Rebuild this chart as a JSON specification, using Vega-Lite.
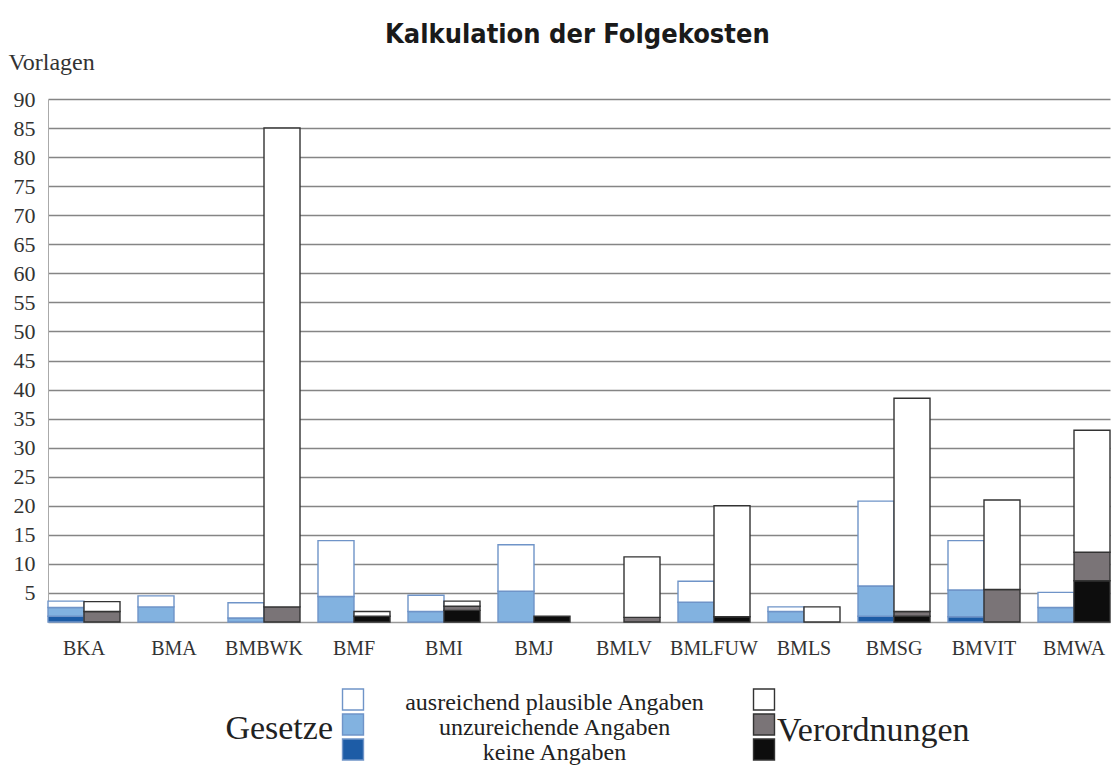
{
  "$schema": "https://vega.github.io/schema/vega-lite/v6.json",
  "background": "white",
  "padding": {"left": 8, "top": 21, "right": 0, "bottom": 0},
  "title": {"text": "Kalkulation der Folgekosten", "font": "DejaVu Sans Condensed, DejaVu Sans", "fontWeight": "bold", "fontSize": 27, "color": "#1a1a1a", "anchor": "middle", "offset": 1, "dx": 18},
  "config": {"view": {"stroke": null}, "font": "Liberation Serif"},
  "spacing": 28,
  "vconcat": [
    {
      "width": 1062,
      "height": 523,
      "data": {"values": [
        {"Ressort": "BKA", "Art": "Gesetze", "Angabe": "keine Angaben", "n": 1.0},
        {"Ressort": "BKA", "Art": "Gesetze", "Angabe": "unzureichende Angaben", "n": 1.5},
        {"Ressort": "BKA", "Art": "Gesetze", "Angabe": "ausreichend plausible Angaben", "n": 1.1},
        {"Ressort": "BKA", "Art": "Verordnungen", "Angabe": "unzureichende Angaben", "n": 1.8},
        {"Ressort": "BKA", "Art": "Verordnungen", "Angabe": "ausreichend plausible Angaben", "n": 1.7},
        {"Ressort": "BMA", "Art": "Gesetze", "Angabe": "unzureichende Angaben", "n": 2.6},
        {"Ressort": "BMA", "Art": "Gesetze", "Angabe": "ausreichend plausible Angaben", "n": 1.9},
        {"Ressort": "BMBWK", "Art": "Gesetze", "Angabe": "unzureichende Angaben", "n": 0.7},
        {"Ressort": "BMBWK", "Art": "Gesetze", "Angabe": "ausreichend plausible Angaben", "n": 2.6},
        {"Ressort": "BMBWK", "Art": "Verordnungen", "Angabe": "unzureichende Angaben", "n": 2.6},
        {"Ressort": "BMBWK", "Art": "Verordnungen", "Angabe": "ausreichend plausible Angaben", "n": 82.4},
        {"Ressort": "BMF", "Art": "Gesetze", "Angabe": "unzureichende Angaben", "n": 4.4},
        {"Ressort": "BMF", "Art": "Gesetze", "Angabe": "ausreichend plausible Angaben", "n": 9.6},
        {"Ressort": "BMF", "Art": "Verordnungen", "Angabe": "keine Angaben", "n": 1.0},
        {"Ressort": "BMF", "Art": "Verordnungen", "Angabe": "ausreichend plausible Angaben", "n": 0.8},
        {"Ressort": "BMI", "Art": "Gesetze", "Angabe": "unzureichende Angaben", "n": 1.8},
        {"Ressort": "BMI", "Art": "Gesetze", "Angabe": "ausreichend plausible Angaben", "n": 2.8},
        {"Ressort": "BMI", "Art": "Verordnungen", "Angabe": "keine Angaben", "n": 2.0},
        {"Ressort": "BMI", "Art": "Verordnungen", "Angabe": "unzureichende Angaben", "n": 0.7},
        {"Ressort": "BMI", "Art": "Verordnungen", "Angabe": "ausreichend plausible Angaben", "n": 0.9},
        {"Ressort": "BMJ", "Art": "Gesetze", "Angabe": "unzureichende Angaben", "n": 5.3},
        {"Ressort": "BMJ", "Art": "Gesetze", "Angabe": "ausreichend plausible Angaben", "n": 8.0},
        {"Ressort": "BMJ", "Art": "Verordnungen", "Angabe": "keine Angaben", "n": 1.0},
        {"Ressort": "BMLV", "Art": "Verordnungen", "Angabe": "unzureichende Angaben", "n": 0.8},
        {"Ressort": "BMLV", "Art": "Verordnungen", "Angabe": "ausreichend plausible Angaben", "n": 10.4},
        {"Ressort": "BMLFUW", "Art": "Gesetze", "Angabe": "unzureichende Angaben", "n": 3.4},
        {"Ressort": "BMLFUW", "Art": "Gesetze", "Angabe": "ausreichend plausible Angaben", "n": 3.6},
        {"Ressort": "BMLFUW", "Art": "Verordnungen", "Angabe": "keine Angaben", "n": 0.9},
        {"Ressort": "BMLFUW", "Art": "Verordnungen", "Angabe": "ausreichend plausible Angaben", "n": 19.1},
        {"Ressort": "BMLS", "Art": "Gesetze", "Angabe": "unzureichende Angaben", "n": 1.8},
        {"Ressort": "BMLS", "Art": "Gesetze", "Angabe": "ausreichend plausible Angaben", "n": 0.8},
        {"Ressort": "BMLS", "Art": "Verordnungen", "Angabe": "ausreichend plausible Angaben", "n": 2.6},
        {"Ressort": "BMSG", "Art": "Gesetze", "Angabe": "keine Angaben", "n": 1.0},
        {"Ressort": "BMSG", "Art": "Gesetze", "Angabe": "unzureichende Angaben", "n": 5.2},
        {"Ressort": "BMSG", "Art": "Gesetze", "Angabe": "ausreichend plausible Angaben", "n": 14.6},
        {"Ressort": "BMSG", "Art": "Verordnungen", "Angabe": "keine Angaben", "n": 1.0},
        {"Ressort": "BMSG", "Art": "Verordnungen", "Angabe": "unzureichende Angaben", "n": 0.8},
        {"Ressort": "BMSG", "Art": "Verordnungen", "Angabe": "ausreichend plausible Angaben", "n": 36.7},
        {"Ressort": "BMVIT", "Art": "Gesetze", "Angabe": "keine Angaben", "n": 0.9},
        {"Ressort": "BMVIT", "Art": "Gesetze", "Angabe": "unzureichende Angaben", "n": 4.6},
        {"Ressort": "BMVIT", "Art": "Gesetze", "Angabe": "ausreichend plausible Angaben", "n": 8.5},
        {"Ressort": "BMVIT", "Art": "Verordnungen", "Angabe": "unzureichende Angaben", "n": 5.6},
        {"Ressort": "BMVIT", "Art": "Verordnungen", "Angabe": "ausreichend plausible Angaben", "n": 15.4},
        {"Ressort": "BMWA", "Art": "Gesetze", "Angabe": "unzureichende Angaben", "n": 2.5},
        {"Ressort": "BMWA", "Art": "Gesetze", "Angabe": "ausreichend plausible Angaben", "n": 2.6},
        {"Ressort": "BMWA", "Art": "Verordnungen", "Angabe": "keine Angaben", "n": 7.1},
        {"Ressort": "BMWA", "Art": "Verordnungen", "Angabe": "unzureichende Angaben", "n": 4.9},
        {"Ressort": "BMWA", "Art": "Verordnungen", "Angabe": "ausreichend plausible Angaben", "n": 21.0}
      ]},
      "transform": [
        {"calculate": "indexof(['keine Angaben','unzureichende Angaben','ausreichend plausible Angaben'], datum.Angabe)", "as": "rang"},
        {"calculate": "datum.Art + ': ' + datum.Angabe", "as": "Kategorie"},
        {"stack": "n", "groupby": ["Ressort", "Art"], "sort": [{"field": "rang", "order": "ascending"}], "as": ["n0", "n1"]}
      ],
      "mark": {"type": "bar", "strokeWidth": 1.4},
      "encoding": {
        "x": {
          "field": "Ressort", "type": "nominal",
          "sort": ["BKA", "BMA", "BMBWK", "BMF", "BMI", "BMJ", "BMLV", "BMLFUW", "BMLS", "BMSG", "BMVIT", "BMWA"],
          "scale": {"paddingInner": 0.2, "paddingOuter": 0},
          "axis": {"title": null, "labelAngle": 0, "labelFont": "Liberation Serif", "labelFontSize": 20, "labelPadding": 16, "labelColor": "#333", "ticks": false, "tickSize": 0, "domainColor": "#999", "domainWidth": 1.5, "grid": false}
        },
        "xOffset": {"field": "Art", "type": "nominal", "sort": ["Gesetze", "Verordnungen"], "scale": {"paddingInner": 0, "paddingOuter": 0}},
        "y": {
          "field": "n1", "type": "quantitative",
          "scale": {"domain": [0, 90], "nice": false},
          "axis": {
            "title": "Vorlagen", "titleAngle": 0, "titleAlign": "left", "titleX": -40, "titleY": -30, "titleBaseline": "alphabetic",
            "titleFont": "Liberation Serif", "titleFontSize": 24, "titleFontWeight": "normal", "titleColor": "#333",
            "values": [5, 10, 15, 20, 25, 30, 35, 40, 45, 50, 55, 60, 65, 70, 75, 80, 85, 90],
            "grid": true, "gridColor": "#858585", "gridWidth": 1.3,
            "ticks": false, "tickSize": 0, "labelPadding": 13,
            "labelFont": "Liberation Serif", "labelFontSize": 22, "labelColor": "#333",
            "domain": true, "domainColor": "#aaa"
          }
        },
        "y2": {"field": "n0"},
        "fill": {
          "field": "Kategorie", "type": "nominal", "legend": null,
          "scale": {
            "domain": ["Gesetze: ausreichend plausible Angaben", "Gesetze: unzureichende Angaben", "Gesetze: keine Angaben", "Verordnungen: ausreichend plausible Angaben", "Verordnungen: unzureichende Angaben", "Verordnungen: keine Angaben"],
            "range": ["#ffffff", "#82b2e0", "#1d5ca6", "#ffffff", "#7a7477", "#0d0d0d"]
          }
        },
        "stroke": {
          "field": "Art", "type": "nominal", "legend": null,
          "scale": {"domain": ["Gesetze", "Verordnungen"], "range": ["#6f94c8", "#333333"]}
        }
      }
    },
    {
      "width": 1062,
      "height": 75,
      "layer": [
        {
          "data": {"values": [
            {"Art": "Gesetze", "Angabe": "ausreichend plausible Angaben"},
            {"Art": "Gesetze", "Angabe": "unzureichende Angaben"},
            {"Art": "Gesetze", "Angabe": "keine Angaben"},
            {"Art": "Verordnungen", "Angabe": "ausreichend plausible Angaben"},
            {"Art": "Verordnungen", "Angabe": "unzureichende Angaben"},
            {"Art": "Verordnungen", "Angabe": "keine Angaben"}
          ]},
          "transform": [{"calculate": "datum.Art + ': ' + datum.Angabe", "as": "Kategorie"}],
          "mark": {"type": "square", "size": 440, "filled": true, "opacity": 1, "strokeWidth": 1.4},
          "encoding": {
            "x": {"field": "Art", "type": "nominal", "scale": {"type": "point", "domain": ["Gesetze", "Mitte", "Verordnungen"], "range": [305, 716], "padding": 0}, "axis": null},
            "y": {"field": "Angabe", "type": "nominal", "scale": {"type": "point", "domain": ["ausreichend plausible Angaben", "unzureichende Angaben", "keine Angaben"], "padding": 0.5}, "axis": null},
            "fill": {"field": "Kategorie", "type": "nominal", "legend": null},
            "stroke": {"field": "Art", "type": "nominal", "legend": null}
          }
        },
        {
          "data": {"values": [
            {"Spalte": "Mitte", "Angabe": "ausreichend plausible Angaben"},
            {"Spalte": "Mitte", "Angabe": "unzureichende Angaben"},
            {"Spalte": "Mitte", "Angabe": "keine Angaben"}
          ]},
          "mark": {"type": "text", "font": "Liberation Serif", "fontSize": 24, "color": "#222", "baseline": "middle", "dx": -4, "dy": 3},
          "encoding": {
            "x": {"field": "Spalte", "type": "nominal", "axis": null},
            "y": {"field": "Angabe", "type": "nominal", "axis": null},
            "text": {"field": "Angabe"}
          }
        },
        {
          "data": {"values": [
            {"Art": "Gesetze", "Angabe": "unzureichende Angaben"}
          ]},
          "mark": {"type": "text", "font": "Liberation Serif", "fontSize": 34, "color": "#222", "align": "right", "baseline": "middle", "dx": -20, "dy": 4},
          "encoding": {
            "x": {"field": "Art", "type": "nominal", "axis": null},
            "y": {"field": "Angabe", "type": "nominal", "axis": null},
            "text": {"field": "Art"}
          }
        },
        {
          "data": {"values": [
            {"Art": "Verordnungen", "Angabe": "unzureichende Angaben"}
          ]},
          "mark": {"type": "text", "font": "Liberation Serif", "fontSize": 34, "color": "#222", "align": "left", "baseline": "middle", "dx": 13, "dy": 6},
          "encoding": {
            "x": {"field": "Art", "type": "nominal", "axis": null},
            "y": {"field": "Angabe", "type": "nominal", "axis": null},
            "text": {"field": "Art"}
          }
        }
      ]
    }
  ]
}
